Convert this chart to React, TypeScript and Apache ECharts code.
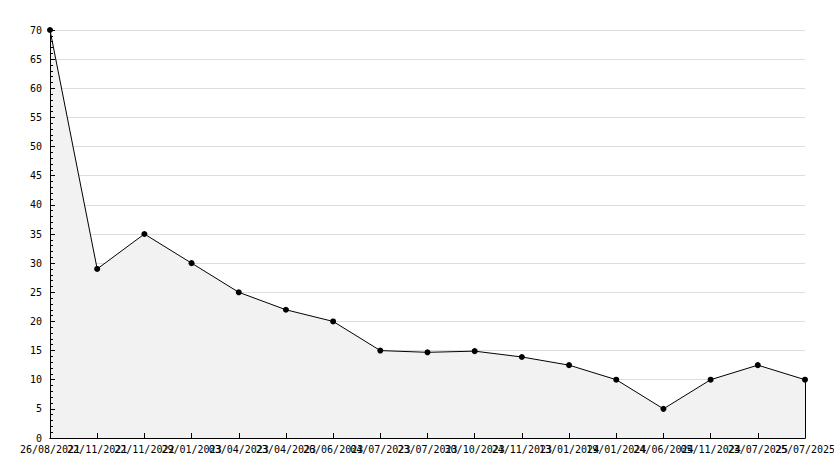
import React, { useEffect, useRef } from "react";
import * as echarts from "echarts";

const categories = [
  "26/08/2021", "22/11/2021", "22/11/2022", "29/01/2023", "03/04/2023",
  "23/04/2023", "26/06/2023", "04/07/2023", "23/07/2023", "30/10/2023",
  "24/11/2023", "13/01/2024", "19/01/2024", "24/06/2024", "05/11/2024",
  "23/07/2025", "25/07/2025",
];
const values = [70, 29, 35, 30, 25, 22, 20, 15, 14.7, 14.9, 13.9, 12.5, 10, 5, 10, 12.5, 10];

const font = { fontFamily: "DejaVu Sans Mono", fontSize: 10, color: "#000" };

export default function App() {
  const ref = useRef<HTMLDivElement>(null);
  useEffect(() => {
    if (!ref.current) return;
    const chart = echarts.init(ref.current, null, { renderer: "svg" });
    const last = categories.length - 1;
    const yBase = { type: "value", min: 0, max: 70, interval: 5, position: "left" };
    chart.setOption({
      animation: false,
      backgroundColor: "#fff",
      grid: { left: 50, right: 29, top: 30, bottom: 30, containLabel: false, outerBoundsMode: "none" },
      xAxis: [
        {
          type: "category",
          data: categories,
          boundaryGap: false,
          axisLine: { lineStyle: { color: "#000", width: 1 } },
          axisTick: { show: false },
          axisLabel: { ...font, interval: 0, margin: 6, hideOverlap: false },
          splitLine: { show: false },
        },
        {
          type: "category",
          data: categories,
          boundaryGap: false,
          position: "bottom",
          z: 5,
          axisLine: { show: true, lineStyle: { color: "#000", width: 1 } },
          axisTick: { show: true, inside: true, length: 5, interval: 0, lineStyle: { color: "#000" } },
          axisLabel: { show: false },
          splitLine: { show: false },
        },
      ],
      yAxis: [
        {
          ...yBase,
          axisLine: { show: true, lineStyle: { color: "#000", width: 1 } },
          axisTick: { show: false },
          axisLabel: { ...font, margin: 8 },
          splitLine: { show: true, lineStyle: { color: "#dddddd", width: 1 } },
        },
        {
          ...yBase,
          z: 5,
          axisLine: { show: true, lineStyle: { color: "#000", width: 1 } },
          axisTick: { show: true, inside: true, length: 5, lineStyle: { color: "#000" } },
          minorTick: { show: true, splitNumber: 5, length: 3, lineStyle: { color: "#000" } },
          axisLabel: { show: false },
          splitLine: { show: false },
        },
      ],
      series: [
        {
          type: "line",
          data: values,
          xAxisIndex: 0,
          yAxisIndex: 0,
          symbol: "circle",
          symbolSize: 6,
          itemStyle: { color: "#000" },
          lineStyle: { color: "#000", width: 1 },
          areaStyle: { color: "#f2f2f2", opacity: 1 },
          markLine: {
            silent: true,
            symbol: "none",
            label: { show: false },
            lineStyle: { color: "#000", width: 1, type: "solid" },
            data: [[{ coord: [last, 0] }, { coord: [last, values[last]] }]],
          },
        },
      ],
    });
    return () => chart.dispose();
  }, []);
  return <div ref={ref} style={{ width: 834, height: 468, position: "absolute", left: 0, top: 0 }} />;
}
